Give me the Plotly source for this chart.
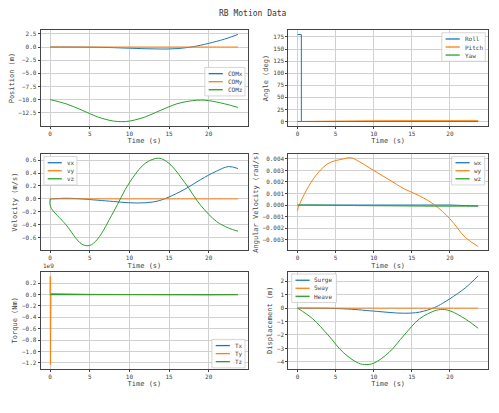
import plotly.graph_objects as go
from plotly.subplots import make_subplots

t = [0, 2, 4, 6, 8, 9, 10, 12, 14, 16, 18, 19, 20, 22, 23.7]
com_x = [0, 0, -0.01, -0.05, -0.12, -0.18, -0.22, -0.32, -0.38, -0.3, 0.05, 0.35, 0.7, 1.5, 2.4]
com_y = [0] * 15
com_z = [-10, -10.8, -12, -13.3, -14.1, -14.2, -14.1, -13.3, -12, -10.8, -10.2, -10.1, -10.2, -10.8, -11.5]

t_ang = [0, 0.5, 0.5, 5, 10, 15, 20, 23.7]
roll = [180, 180, 0, 0, 0, 0, 0, 0]
pitch = [0, 0, 0, 0.8, 1.5, 1.8, 1.8, 1.7]
yaw = [0, 0, 0, 0, 0, 0, 0, 0]

t_v = [0, 0.05, 2, 4, 5, 6, 8, 10, 12, 13.7, 15, 17, 19, 21, 22.5, 23.7]
vx = [0, 0, 0.01, 0, -0.01, -0.02, -0.04, -0.06, -0.06, -0.03, 0.03, 0.15, 0.3, 0.43, 0.5, 0.47]
vy = [0] * 16
vz = [0, -0.12, -0.4, -0.7, -0.72, -0.62, -0.2, 0.25, 0.55, 0.63, 0.55, 0.25, -0.1, -0.35, -0.45, -0.5]

t_w = [0, 0.1, 2, 4, 6, 7, 8, 10, 12, 14, 16, 18, 20, 22, 23.7]
wx = [0] * 13 + [-0.00005, -0.00008]
wy = [-0.0005, -0.0002, 0.0022, 0.0036, 0.004, 0.0041, 0.0038, 0.003, 0.0022, 0.0014, 0.0008, 0.0, -0.0012, -0.0028, -0.0036]
wz = [0, 0, 0, -0.00002, -0.00003, -0.00004, -0.00005, -0.00006, -0.00007, -0.00008, -0.00009, -0.0001, -0.0001, -0.0001, -0.0001]

t_tq = [0, 0.02, 0.04, 0.06, 0.1, 5, 10, 15, 20, 23.7]
tx = [0, 0, 0, 0, 0, 0, 0, 0, 0, 0]
ty = [0, 0.32e9, -1.23e9, 0.02e9, 0.02e9, 0.005e9, 0, -0.005e9, -0.005e9, 0]
tz = [0] * 10

surge = [v - com_x[0] for v in com_x]
sway = [0] * 15
heave = [v - com_z[0] for v in com_z]

colors = ["#1f77b4", "#ff7f0e", "#2ca02c"]
font = "DejaVu Sans Mono"

fig = make_subplots(rows=3, cols=2)


def add(row, col, x, ys, scale=1, shape="spline"):
    for y, c in zip(ys, colors):
        fig.add_trace(go.Scatter(x=x, y=[v / scale for v in y], mode="lines", showlegend=False,
                                 line=dict(color=c, width=1, shape=shape)), row=row, col=col)


def legend(names, x0, y_top, w=0.085):
    # matplotlib-like legend box drawn in paper coords
    h = 0.022 * len(names) + 0.012
    fig.add_shape(type="rect", xref="paper", yref="paper", x0=x0, x1=x0 + w, y0=y_top - h, y1=y_top,
                  fillcolor="rgba(255,255,255,0.85)", line=dict(color="#ccc", width=0.8))
    for i, (n, c) in enumerate(zip(names, colors)):
        yy = y_top - 0.017 - 0.022 * i
        fig.add_shape(type="line", xref="paper", yref="paper", x0=x0 + 0.008, x1=x0 + 0.038, y0=yy, y1=yy,
                      line=dict(color=c, width=1.3))
        fig.add_annotation(text=n, xref="paper", yref="paper", x=x0 + 0.044, y=yy, showarrow=False,
                           xanchor="left", yanchor="middle", font=dict(size=6, family=font, color="#444"))


add(1, 1, t, [com_x, com_y, com_z])
add(1, 2, t_ang, [roll, pitch, yaw], shape="linear")
add(2, 1, t_v, [vx, vy, vz])
add(2, 2, t_w, [wx, wy, wz])
add(3, 1, t_tq, [tx, ty, tz], scale=1e9, shape="linear")
add(3, 2, t, [surge, sway, heave])

ylabels = ["Position (m)", "Angle (deg)", "Velocity (m/s)", "Angular Velocity (rad/s)",
           "Torque (Nm)", "Displacement (m)"]
for i in range(6):
    r, c = i // 2 + 1, i % 2 + 1
    fig.update_yaxes(title_text=ylabels[i], row=r, col=c)
    fig.update_xaxes(title_text="Time (s)", row=r, col=c, tickvals=[0, 5, 10, 15, 20], range=[-1.2, 25])

fig.update_xaxes(showgrid=True, gridcolor="#d0d0d0", zeroline=False, showline=True, mirror=True,
                 linecolor="#444", ticks="outside", ticklen=2, title_standoff=2)
fig.update_yaxes(showgrid=True, gridcolor="#d0d0d0", zeroline=False, showline=True, mirror=True,
                 linecolor="#444", ticks="outside", ticklen=2, title_standoff=3)
fig.update_yaxes(tickvals=[2.5, 0, -2.5, -5, -7.5, -10, -12.5],
                 ticktext=["2.5", "0.0", "−2.5", "−5.0", "−7.5", "−10.0", "−12.5"], range=[-15, 3.2], row=1, col=1)
fig.update_yaxes(tickvals=[0, 25, 50, 75, 100, 125, 150, 175], range=[-9, 189], row=1, col=2)
fig.update_yaxes(tickvals=[-0.6, -0.4, -0.2, 0, 0.2, 0.4, 0.6],
                 ticktext=["−0.6", "−0.4", "−0.2", "0.0", "0.2", "0.4", "0.6"], range=[-0.79, 0.69], row=2, col=1)
fig.update_yaxes(tickvals=[-0.003, -0.002, -0.001, 0, 0.001, 0.002, 0.003, 0.004],
                 ticktext=["−0.003", "−0.002", "−0.001", "0.000", "0.001", "0.002", "0.003", "0.004"],
                 range=[-0.0039, 0.0044], row=2, col=2)
fig.update_yaxes(tickvals=[0.2, 0, -0.2, -0.4, -0.6, -0.8, -1.0, -1.2],
                 ticktext=["0.2", "0.0", "−0.2", "−0.4", "−0.6", "−0.8", "−1.0", "−1.2"], range=[-1.3, 0.4], row=3, col=1)
fig.update_yaxes(tickvals=[2, 1, 0, -1, -2, -3, -4],
                 ticktext=["2", "1", "0", "−1", "−2", "−3", "−4"], range=[-4.5, 2.7], row=3, col=2)

fig.update_xaxes(domain=[0.05, 0.49], col=1)
fig.update_xaxes(domain=[0.575, 0.998], col=2)
fig.update_yaxes(domain=[0.71, 0.972], row=1)
fig.update_yaxes(domain=[0.37, 0.632], row=2)
fig.update_yaxes(domain=[0.045, 0.31], row=3)

legend(["COMx", "COMy", "COMz"], 0.398, 0.87)
legend(["Roll", "Pitch", "Yaw"], 0.9, 0.965, w=0.092)
legend(["vx", "vy", "vz"], 0.057, 0.626, w=0.07)
legend(["wx", "wy", "wz"], 0.921, 0.626, w=0.07)
legend(["Tx", "Ty", "Tz"], 0.413, 0.125, w=0.07)
legend(["Surge", "Sway", "Heave"], 0.582, 0.304, w=0.095)

fig.add_annotation(text="RB Motion Data", x=0.5, y=1.0, xref="paper", yref="paper", showarrow=False,
                   yanchor="bottom", font=dict(size=8, family=font, color="#333"))
fig.add_annotation(text="1e9", x=0.05, y=0.313, xref="paper", yref="paper", showarrow=False,
                   xanchor="left", yanchor="bottom", font=dict(size=6, family=font, color="#444"))

fig.update_layout(width=483, height=397, margin=dict(l=6, r=2, t=12, b=20),
                  plot_bgcolor="white", paper_bgcolor="white",
                  font=dict(family=font, size=6, color="#444"))
fig.write_html("out.html")
